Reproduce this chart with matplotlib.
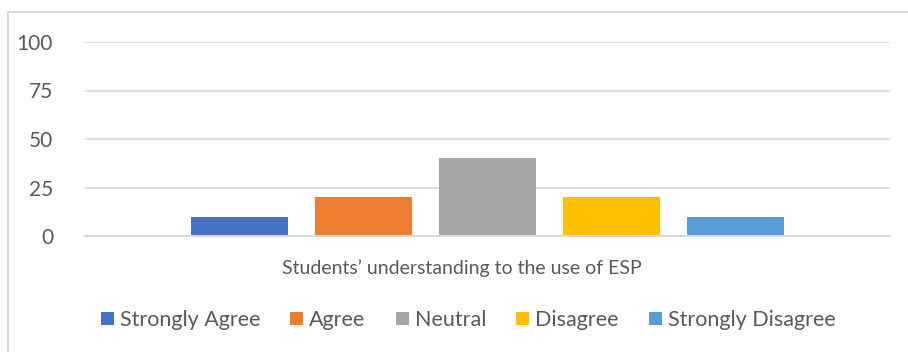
import matplotlib.pyplot as plt
from matplotlib.lines import Line2D

categories = ["Strongly Agree", "Agree", "Neutral", "Disagree", "Strongly Disagree"]
values = [10, 20, 40, 20, 10]
colors = ["#4472C4", "#ED7D31", "#A5A5A5", "#FFC000", "#5B9BD5"]
yticks = [0, 25, 50, 75, 100]
xlabel = "Students\u2019 understanding to the use of ESP"

plt.rcParams['font.family'] = ['Lato', 'DejaVu Sans']
text_color = "#595959"
grid_color = "#D9D9D9"

fig = plt.figure(figsize=(9.08, 3.52), dpi=100)
ax = fig.add_axes([85 / 908, 1 - 236 / 352, 805 / 908, 194 / 352])

x = list(range(len(categories)))
bars = ax.bar(x, values, width=0.79, color=colors, label=categories, zorder=3)

ax.set_xlim(-1.246, 5.246)
ax.set_ylim(0, 100)
ax.set_yticks(yticks)
ax.set_xticks([])
ax.tick_params(axis="y", length=0, pad=23, labelsize=15, labelcolor=text_color)
ax.grid(axis="y", color=grid_color, linewidth=1.2, zorder=0)
for side in ["top", "right", "left"]:
    ax.spines[side].set_visible(False)
ax.spines["bottom"].set_color(grid_color)
ax.spines["bottom"].set_linewidth(1.5)
ax.spines["bottom"].set_zorder(4)

fig.text(462 / 908, 1 - 268 / 352, xlabel, ha="center", va="center",
         fontsize=14, color=text_color)

fig.legend(bars, categories, loc="center", bbox_to_anchor=(468 / 908, 1 - 320 / 352),
           ncol=5, frameon=False, fontsize=15.5, labelcolor=text_color,
           handlelength=0.6, handleheight=0.6, handletextpad=0.28,
           columnspacing=1.4, borderpad=0, borderaxespad=0)

# chart border (only top and left edges visible in the crop)
fig.add_artist(Line2D([8 / 908, 8 / 908], [0, 1 - 12 / 352], color=grid_color,
                      linewidth=1.5, transform=fig.transFigure))
fig.add_artist(Line2D([8 / 908, 1], [1 - 12 / 352, 1 - 12 / 352], color=grid_color,
                      linewidth=1.5, transform=fig.transFigure))

fig.savefig("out.png", dpi=100)
